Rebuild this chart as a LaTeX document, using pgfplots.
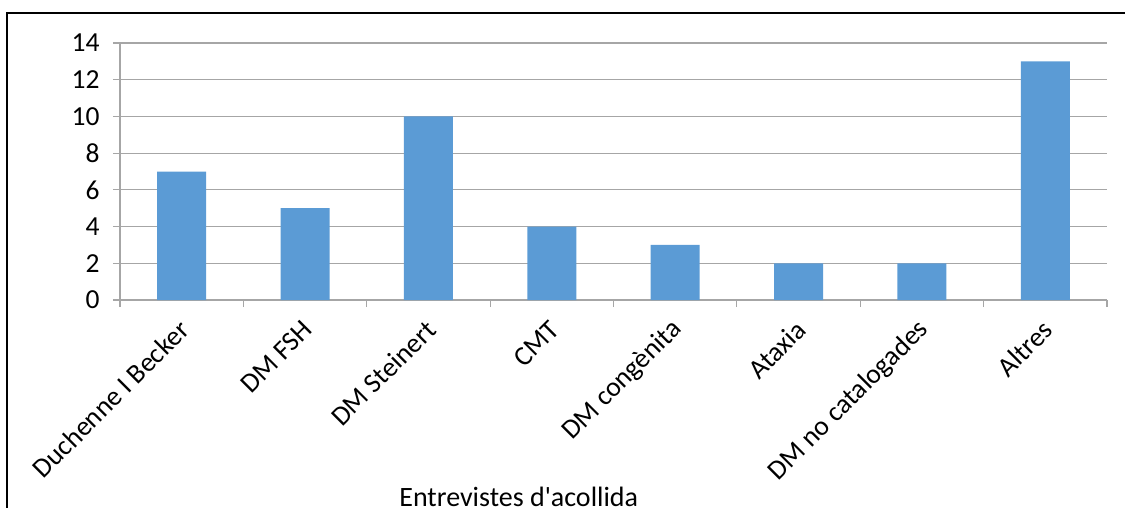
\documentclass[border=0pt]{standalone}
\usepackage{fontspec}
\setmainfont{Carlito}[Ligatures=TeXOff]
\usepackage{pgfplots}
\pgfplotsset{compat=1.18}
\definecolor{barblue}{HTML}{5B9BD5}
\definecolor{gridgray}{HTML}{A6A6A6}
\begin{document}
\begin{tikzpicture}[x=1pt,y=1pt]
\useasboundingbox (0,0) rectangle (1125,507);
\draw[line width=1.5pt,black] (7,-20) -- (7,494) -- (1140,494);
\begin{axis}[
  at={(120pt,207pt)}, anchor=south west,
  scale only axis, width=987pt, height=257pt,
  xmin=0, xmax=8, ymin=0, ymax=14,
  ytick={0,2,...,14},
  ymajorgrids,
  grid style={color=gridgray, line width=1.2pt},
  axis x line*=bottom, axis y line*=left,
  axis line style={color=gridgray, line width=1.2pt},
  tick style={color=gridgray, line width=1.2pt},
  tick align=outside, major tick length=7pt,
  /pgf/number format/assume math mode=true,
  yticklabel style={font=\fontsize{27.5}{32}\selectfont, xshift=-10pt},
  xtick={0,1,...,8}, xticklabels={},
  extra x ticks={0.5,1.5,...,7.5},
  extra x tick labels={Duchenne I Becker, DM FSH, DM Steinert, CMT, DM congènita, Ataxia, DM no catalogades, Altres},
  extra x tick style={major tick length=0pt, tick label style={font=\fontsize{27.5}{32}\selectfont, xshift=5pt, yshift=-23pt, rotate=45, anchor=east}},
  xlabel={Entrevistes d'acollida},
  xlabel style={font=\fontsize{28}{32}\selectfont, at={(axis description cs:0.404,0)}, anchor=base, yshift=-206pt},
  clip=false,
]
\addplot[ybar, bar width=49pt, fill=barblue, draw=none] coordinates {
(0.5,7) (1.5,5) (2.5,10) (3.5,4) (4.5,3) (5.5,2) (6.5,2) (7.5,13)
};
\end{axis}
\end{tikzpicture}
\end{document}
